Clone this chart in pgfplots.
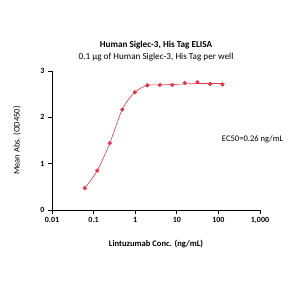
\documentclass[border=0pt]{standalone}
\usepackage{pgfplots}
\pgfplotsset{compat=1.18}
\usepackage{fontspec}
\setmainfont{Carlito}
\definecolor{pred}{RGB}{226,54,74}
\begin{document}
\begin{tikzpicture}[x=1bp,y=1bp]
\path[use as bounding box] (0,0) rectangle (300,300);
\node[font=\bfseries\fontsize{9.2}{11}\selectfont] at (156,255) {Human Siglec-3, His Tag ELISA};
\node[font=\fontsize{9.2}{11}\selectfont] at (156,243) {0.1 \textmu g of Human Siglec-3, His Tag per well};
\begin{axis}[
  at={(52bp,90bp)}, anchor=south west,
  scale only axis, width=208bp, height=139bp,
  xmode=log, xmin=0.01, xmax=1000, ymin=0, ymax=3,
  axis lines=left, axis line style={-, line width=0.8pt},
  tick align=outside, major tick length=4bp,
  tick style={line width=0.8pt, black},
  xtick={0.01,0.1,1,10,100,1000},
  xticklabels={0.01,0.1,1,10,100,{1,000}},
  ytick={0,1,2,3},
  minor xtick={}, xminorticks=false,
  ticklabel style={font=\bfseries\fontsize{8}{9}\selectfont},
  /pgf/number format/assume math mode=true,
  xlabel={Lintuzumab Conc. (ng/mL)},
  ylabel={Mean Abs. (OD450)},
  xlabel style={font=\bfseries\fontsize{8.6}{10}\selectfont, at={(axis description cs:0.5,-0.245)}, anchor=center},
  ylabel style={font=\fontsize{8.6}{10}\selectfont, at={(axis description cs:-0.168,0.5)}, anchor=center},
  clip=false,
]
\addplot[pred, line width=0.6pt, smooth, tension=0.5, no marks] coordinates {
(0.061,0.47) (0.122,0.85) (0.244,1.44) (0.488,2.17) (0.977,2.54) (1.95,2.69)
(3.9,2.70) (7.8,2.71) (15.6,2.72) (31.25,2.73) (62.5,2.73) (125,2.73)};
\addplot[only marks, mark=*, mark size=1.9bp, pred] coordinates {
(0.061,0.47) (0.122,0.85) (0.244,1.44) (0.488,2.17) (0.977,2.54) (1.95,2.69)
(3.9,2.70) (7.8,2.70) (15.6,2.74) (31.25,2.76) (62.5,2.72) (125,2.71)};
\node[font=\fontsize{8.6}{10}\selectfont, anchor=west] at (axis cs:100,1.52) {EC50=0.26 ng/mL};
\end{axis}
\end{tikzpicture}
\end{document}
